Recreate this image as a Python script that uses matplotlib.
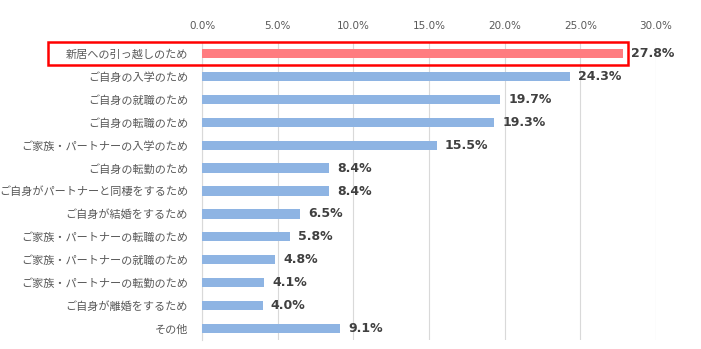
import matplotlib.pyplot as plt
from matplotlib.patches import Rectangle
from matplotlib.ticker import FuncFormatter

plt.rcParams['font.family'] = ['Noto Sans CJK JP', 'DejaVu Sans']

# ===================================== Data
reasons = [
    "新居への引っ越しのため",
    "ご自身の入学のため",
    "ご自身の就職のため",
    "ご自身の転職のため",
    "ご家族・パートナーの入学のため",
    "ご自身の転勤のため",
    "ご自身がパートナーと同棲をするため",
    "ご自身が結婚をするため",
    "ご家族・パートナーの転職のため",
    "ご家族・パートナーの就職のため",
    "ご家族・パートナーの転勤のため",
    "ご自身が離婚をするため",
    "その他",
]
shares = [27.8, 24.3, 19.7, 19.3, 15.5, 8.4, 8.4, 6.5, 5.8, 4.8, 4.1, 4.0, 9.1]
x_ticks = [0, 5, 10, 15, 20, 25, 30]

blue = '#8eb4e3'
pink = '#ff7c80'
colors = [pink] + [blue] * (len(reasons) - 1)

# ===================================== Plot
fig = plt.figure(figsize=(7.01, 3.49), dpi=100)
ax = fig.add_axes([202 / 701, 1 - 340 / 349, 454 / 701, 298 / 349])

ypos = list(range(len(reasons)))
ax.barh(ypos, shares, height=0.4, color=colors, zorder=3)

for y, v in zip(ypos, shares):
    ax.annotate(f"{v:.1f}%", xy=(v, y), xytext=(6, 0), textcoords='offset points',
                va='center', ha='left', fontsize=9, fontweight='bold',
                color='#404040', family=['DejaVu Sans'])

ax.set_xlim(0, 30)
ax.set_ylim(len(reasons) - 0.5, -0.5)
ax.set_xticks(x_ticks)
ax.xaxis.set_major_formatter(FuncFormatter(lambda v, p: f"{v:.1f}%"))
ax.xaxis.tick_top()
ax.tick_params(axis='x', length=0, labelsize=7.5, labelcolor='#595959', pad=8)
ax.set_yticks(ypos)
ax.set_yticklabels(reasons)
ax.tick_params(axis='y', length=0, labelsize=8, labelcolor='#595959', pad=10)
for lab in ax.get_xticklabels():
    lab.set_family(['DejaVu Sans'])

ax.grid(axis='x', color='#d9d9d9', linewidth=0.8, zorder=0)
for side in ['top', 'right', 'bottom']:
    ax.spines[side].set_visible(False)
ax.spines['left'].set_color('#d9d9d9')

# highlight box around first item
fig.patches.append(Rectangle((48 / 701, 1 - 65 / 349), 580 / 701, 23 / 349,
                             transform=fig.transFigure, fill=False,
                             edgecolor='#ff0000', linewidth=1.8))

plt.savefig("out.png", dpi=100)
